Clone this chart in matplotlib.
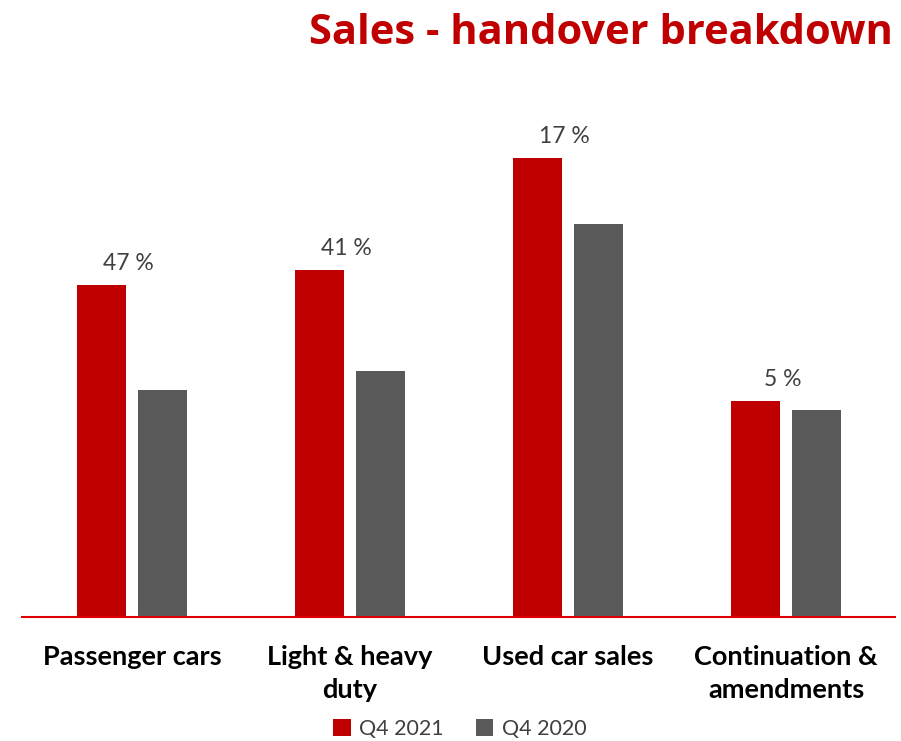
import matplotlib
matplotlib.use("Agg")
import matplotlib.pyplot as plt
import numpy as np

categories = ["Passenger cars", "Light & heavy\nduty", "Used car sales", "Continuation &\namendments"]
q4_2021 = [332, 347, 459, 216]
q4_2020 = [227, 246, 393, 207]
labels_2021 = ["47 %", "41 %", "17 %", "5 %"]
series_names = ["Q4 2021", "Q4 2020"]

RED = "#C00000"
GREY = "#595959"

fig = plt.figure(figsize=(9.01, 7.41), dpi=100)
ax = fig.add_axes([22/901, (741-617)/741, 873/901, 517/741])

x = np.arange(len(categories))
w = 0.225
off = 0.141
b1 = ax.bar(x - off, q4_2021, w, color=RED, label=series_names[0])
b2 = ax.bar(x + off, q4_2020, w, color=GREY, label=series_names[1])

ax.set_xlim(-0.505, 3.5)
ax.set_ylim(0, 517)
for s in ["top", "right", "left"]:
    ax.spines[s].set_visible(False)
ax.spines["bottom"].set_color("#E00000")
ax.spines["bottom"].set_linewidth(1.5)
ax.set_yticks([])
ax.set_xticks(x)
ax.set_xticklabels(categories, fontsize=19.5, fontweight="bold", family="Lato",
                   color="black", linespacing=1.45)
ax.tick_params(axis="x", length=0, pad=20)

for xi, v, lab in zip(x, q4_2021, labels_2021):
    ax.annotate(lab, (xi - off, v), xytext=(19.5, 8), textcoords="offset points",
                ha="center", va="bottom", fontsize=16.5, color="#404040", family="Lato")

fig.text(893/901, 1 - 33/741, "Sales - handover breakdown", ha="right", va="center",
         fontsize=30, fontweight="bold", color=RED, family="Open Sans")

leg = fig.legend(handles=[b1, b2], labels=series_names, loc="center",
                 bbox_to_anchor=(460/901, 1 - 729/741), ncol=2, frameon=False,
                 handlelength=0.8, handleheight=0.8, handletextpad=0.4,
                 columnspacing=1.5, prop={"family": "Lato", "size": 15.5})
for t in leg.get_texts():
    t.set_color("#404040")

fig.savefig("out.png", dpi=100)
